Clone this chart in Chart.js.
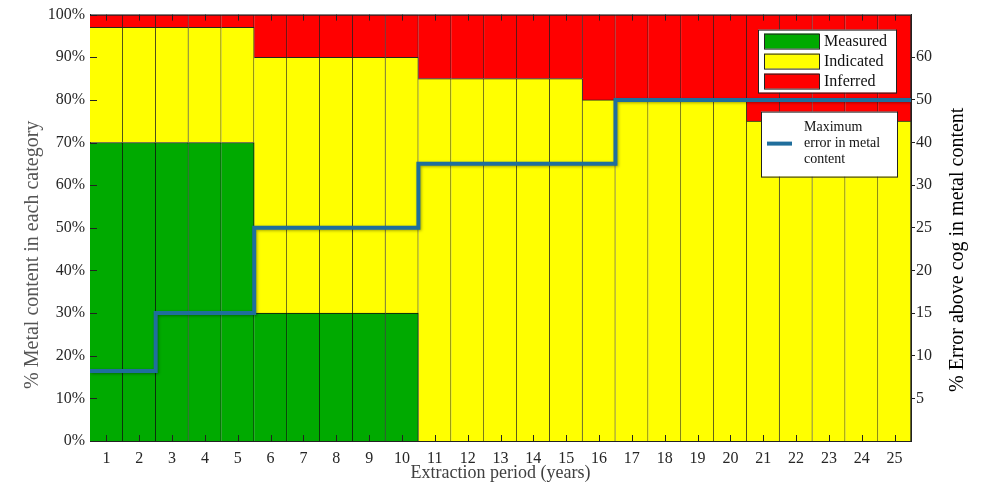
<!DOCTYPE html>
<html>
<head>
<meta charset="utf-8">
<script src="https://cdn.jsdelivr.net/npm/chart.js@4.4.1/dist/chart.umd.min.js"></script>
<style>
  body { margin: 0; background: #fff; }
</style>
</head>
<body>
<canvas id="myChart" width="990" height="484"></canvas>
<script>
// data
var years = ["1","2","3","4","5","6","7","8","9","10","11","12","13","14","15","16","17","18","19","20","21","22","23","24","25"];
var measured  = [70,70,70,70,70,30,30,30,30,30,0,0,0,0,0,0,0,0,0,0,0,0,0,0,0];
var indicated = [27,27,27,27,27,60,60,60,60,60,85,85,85,85,85,80,80,80,80,80,75,75,75,75,75];
var inferred  = [3,3,3,3,3,10,10,10,10,10,15,15,15,15,15,20,20,20,20,20,25,25,25,25,25];
var maxError  = [8.2,8.2,15,15,15,25,25,25,25,25,35,35,35,35,35,35,50,50,50,50,50,50,50,50,50];

// right axis is not linear: its labels sit evenly spaced
var errorTicks  = [5,10,15,20,25,30,40,50,60];
var errorBreaks = [0,5,10,15,20,25,30,40,50,60,70];

var serif = "'Liberation Serif', 'Times New Roman', serif";

class ErrorScale extends Chart.LinearScale {
  determineDataLimits() {
    this.min = errorBreaks[0];
    this.max = errorBreaks[errorBreaks.length - 1];
  }
  buildTicks() {
    return errorTicks.map(function (v) { return { value: v }; });
  }
  getPixelForValue(value) {
    var n = errorBreaks.length - 1;
    var i = 0;
    while (i < n - 1 && value > errorBreaks[i + 1]) i++;
    var dec = (i + (value - errorBreaks[i]) / (errorBreaks[i + 1] - errorBreaks[i])) / n;
    return this.getPixelForDecimal(dec);
  }
  getValueForPixel(pixel) {
    var n = errorBreaks.length - 1;
    var d = this.getDecimalForPixel(pixel) * n;
    var i = Math.max(0, Math.min(n - 1, Math.floor(d)));
    return errorBreaks[i] + (d - i) * (errorBreaks[i + 1] - errorBreaks[i]);
  }
}
ErrorScale.id = "errorScale";
ErrorScale.defaults = Chart.LinearScale.defaults;
Chart.register(ErrorScale);

// step line goes edge to edge of each year
var errorLine = [];
maxError.forEach(function (v, i) {
  errorLine.push({ x: i + 0.5, y: v });
  errorLine.push({ x: i + 1.5, y: v });
});

var barBorder = { top: 1, right: 1, bottom: 0, left: 0 };

// inside tick marks + top frame line
var frameTicks = {
  id: "frameTicks",
  afterDatasetsDraw(chart) {
    var ctx = chart.ctx;
    var a = chart.chartArea;
    var xs = chart.scales.x;
    var ys = chart.scales.y;
    ctx.save();
    ctx.strokeStyle = "#222";
    ctx.lineWidth = 1;
    ctx.beginPath();
    xs.ticks.forEach(function (t, i) {
      var px = Math.round(xs.getPixelForTick(i)) + 0.5;
      ctx.moveTo(px, a.bottom);
      ctx.lineTo(px, a.bottom - 6);
      ctx.moveTo(px, a.top);
      ctx.lineTo(px, a.top + 6);
    });
    ys.ticks.forEach(function (t, i) {
      var py = Math.round(ys.getPixelForTick(i)) + 0.5;
      ctx.moveTo(a.left, py);
      ctx.lineTo(a.left + 7, py);
    });
    ctx.moveTo(a.left, a.top + 0.5);
    ctx.lineTo(a.right, a.top + 0.5);
    ctx.stroke();
    ctx.restore();
  },
};

// shadow under the blue step line
var lineShadow = {
  id: "lineShadow",
  beforeDatasetDraw(chart, args) {
    if (chart.data.datasets[args.index].type !== "line") return;
    var ctx = chart.ctx;
    ctx.save();
    ctx.shadowColor = "rgba(0,0,0,0.35)";
    ctx.shadowBlur = 3;
    ctx.shadowOffsetX = 1;
    ctx.shadowOffsetY = 1;
  },
  afterDatasetDraw(chart, args) {
    if (chart.data.datasets[args.index].type !== "line") return;
    chart.ctx.restore();
  },
};

// two boxed legends + both vertical titles (read bottom to top)
var boxLegends = {
  id: "boxLegends",
  afterDraw(chart) {
    var ctx = chart.ctx;
    var a = chart.chartArea;
    var ds = chart.data.datasets;
    ctx.save();

    // box 1: the three categories
    var bx = a.right - 153, by = a.top + 15, bw = 138, bh = 63;
    ctx.fillStyle = "#fff";
    ctx.fillRect(bx, by, bw, bh);
    ctx.strokeStyle = "#222";
    ctx.lineWidth = 1;
    ctx.strokeRect(bx + 0.5, by + 0.5, bw, bh);
    ctx.font = "16px " + serif;
    ctx.textBaseline = "middle";
    for (var i = 0; i < 3; i++) {
      var ry = by + 4 + i * 20;
      ctx.fillStyle = ds[i].backgroundColor;
      ctx.fillRect(bx + 6, ry, 55, 15);
      ctx.strokeRect(bx + 6.5, ry + 0.5, 55, 15);
      ctx.fillStyle = "#111";
      ctx.fillText(ds[i].label, bx + 66, ry + 8);
    }

    // box 2: the error line
    var lx = a.right - 150, ly = a.top + 97, lw = 136, lh = 65;
    ctx.fillStyle = "#fff";
    ctx.fillRect(lx, ly, lw, lh);
    ctx.strokeRect(lx + 0.5, ly + 0.5, lw, lh);
    ctx.strokeStyle = ds[3].borderColor;
    ctx.lineWidth = 4;
    ctx.beginPath();
    ctx.moveTo(lx + 6, ly + 32);
    ctx.lineTo(lx + 31, ly + 32);
    ctx.stroke();
    ctx.fillStyle = "#111";
    ctx.font = "14px " + serif;
    ds[3].label.forEach(function (s, k) {
      ctx.fillText(s, lx + 43, ly + 16 + k * 16);
    });
    ctx.restore();

    var mid = (a.top + a.bottom) / 2;
    // left title
    ctx.save();
    ctx.translate(33, mid + 27);
    ctx.rotate(-Math.PI / 2);
    ctx.textAlign = "center";
    ctx.textBaseline = "middle";
    ctx.font = "20px " + serif;
    ctx.fillStyle = "#555";
    ctx.fillText("% Metal content in each category", 0, 0);
    ctx.restore();

    // right title
    ctx.save();
    ctx.translate(958, mid + 22);
    ctx.rotate(-Math.PI / 2);
    ctx.textAlign = "center";
    ctx.textBaseline = "middle";
    ctx.font = "20px " + serif;
    ctx.fillStyle = "#000";
    ctx.fillText("% Error above cog in metal content", 0, 0);
    ctx.restore();
  },
};

var barCommon = {
  type: "bar",
  stack: "metal",
  grouped: false,
  borderWidth: barBorder,
  borderSkipped: false,
  barPercentage: 1,
  categoryPercentage: 1,
  order: 2,
};

var ctx = document.getElementById("myChart");
new Chart(ctx, {
  type: "bar",
  data: {
    labels: years,
    datasets: [
      Object.assign({}, barCommon, { label: "Measured", data: measured, backgroundColor: "#00aa00", borderColor: "#111" }),
      Object.assign({}, barCommon, { label: "Indicated", data: indicated, backgroundColor: "#ffff00", borderColor: "#222" }),
      Object.assign({}, barCommon, { label: "Inferred", data: inferred, backgroundColor: "#ff0000", borderColor: "#222" }),
      {
        type: "line",
        label: ["Maximum", "error in metal", "content"],
        data: errorLine,
        xAxisID: "x2",
        yAxisID: "y2",
        borderColor: "#1f6e9c",
        borderWidth: 4,
        pointRadius: 0,
        tension: 0,
        fill: false,
        order: 0,
      },
    ],
  },
  plugins: [frameTicks, lineShadow, boxLegends],
  options: {
    responsive: false,
    animation: false,
    layout: { padding: { top: 10, left: 0, right: 0, bottom: 0 } },
    plugins: {
      legend: { display: false },
      tooltip: { enabled: false },
    },
    scales: {
      x: {
        stacked: true,
        offset: true,
        grid: { display: false, drawTicks: false },
        border: { display: true, color: "#222", width: 1 },
        ticks: { font: { family: serif, size: 16 }, color: "#262626", padding: 8, maxRotation: 0 },
        title: {
          display: true,
          text: "Extraction period (years)",
          font: { family: serif, size: 18 },
          color: "#404040",
          padding: { top: 0, bottom: 0 },
        },
        afterFit: function (s) { s.height = 43; },
      },
      x2: {
        type: "linear",
        display: false,
        offset: false,
        grid: { offset: false },
        min: 0.5,
        max: 25.5,
      },
      y: {
        stacked: true,
        min: 0,
        max: 100,
        grid: { display: false, drawTicks: false },
        border: { display: true, color: "#222", width: 1 },
        ticks: {
          stepSize: 10,
          font: { family: serif, size: 16 },
          color: "#262626",
          padding: 5,
          callback: function (v) { return v + "%"; },
        },
        afterFit: function (s) { s.width = 90; },
      },
      y2: {
        type: "errorScale",
        position: "right",
        offset: false,
        grid: { drawOnChartArea: false, drawTicks: true, tickLength: 4, color: "#222" },
        border: { display: true, color: "#222", width: 1 },
        ticks: { font: { family: serif, size: 16 }, color: "#262626", padding: 1 },
        afterFit: function (s) { s.width = 79; },
      },
    },
  },
});
</script>
</body>
</html>
